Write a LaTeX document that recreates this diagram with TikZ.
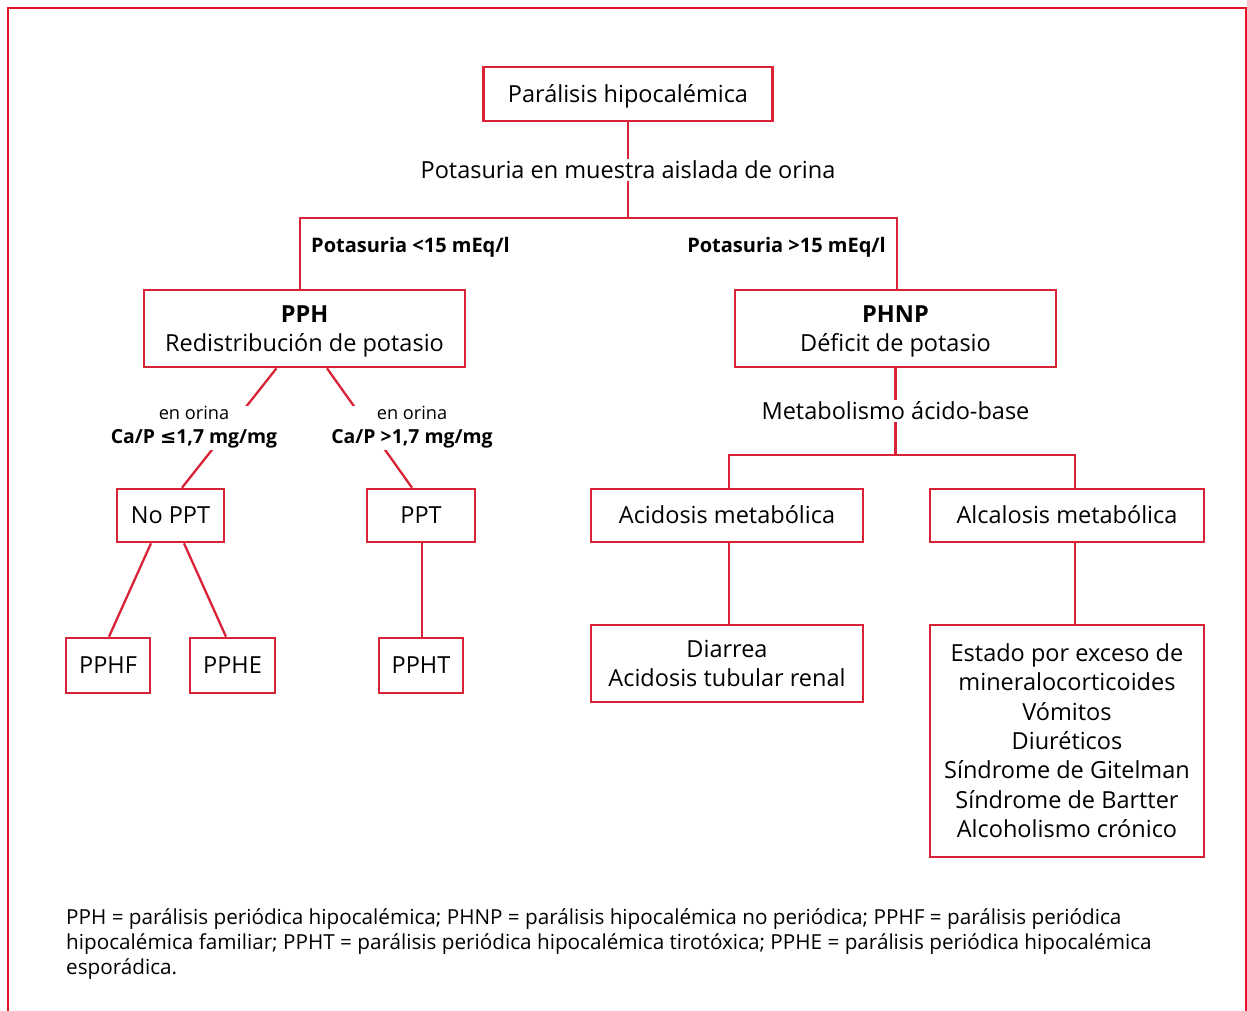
\documentclass[tikz,border=0pt]{standalone}
\usepackage{fontspec}
\setmainfont{Open Sans}
\newfontfamily\dejavu{DejaVu Sans}
\definecolor{boxred}{RGB}{216,35,55}
\definecolor{framered}{RGB}{228,20,40}
\newcommand\mainf{\fontsize{23.5}{29.3}\selectfont}
\newcommand\labf{\fontsize{19.4}{24}\selectfont}
\newcommand\smallf{\fontsize{18.2}{24}\selectfont}
\newcommand\notef{\fontsize{20.7}{25}\selectfont}
\newcommand\capl[1]{\vphantom{H}\smash{#1}}
\begin{document}
\begin{tikzpicture}[x=1pt,y=-1pt,
  box/.style={draw=boxred,line width=2.6pt,inner sep=0pt,align=center,font=\mainf},
  conn/.style={draw=boxred,line width=2.3pt},
  lab/.style={fill=white,inner sep=1.5pt,align=center,font=\mainf}]
\useasboundingbox (0,0) rectangle (1247,1010);
% frame
\draw[framered,line width=2pt] (8,1012) -- (8,8) -- (1246,8) -- (1246,1012);

% boxes
\node[box,minimum width=289,minimum height=54] (top) at (628,94) {\capl{Parálisis hipocalémica}};
\node[box,minimum width=321,minimum height=77] (pph) at (304.5,328.5) {\capl{\textbf{PPH}}\\\capl{Redistribución de potasio}};
\node[box,minimum width=321,minimum height=77] (phnp) at (895.5,328.5) {\capl{\textbf{PHNP}}\\\capl{Déficit de potasio}};
\node[box,minimum width=107,minimum height=53] (noppt) at (170.5,515.5) {\capl{No PPT}};
\node[box,minimum width=108,minimum height=53] (ppt) at (421,515.5) {\capl{PPT}};
\node[box,minimum width=84,minimum height=55] (pphf) at (108,665.5) {\capl{PPHF}};
\node[box,minimum width=85,minimum height=55] (pphe) at (232.5,665.5) {\capl{PPHE}};
\node[box,minimum width=84,minimum height=55] (ppht) at (421,665.5) {\capl{PPHT}};
\node[box,minimum width=272,minimum height=53] (acid) at (727,515.5) {\capl{Acidosis metabólica}};
\node[box,minimum width=274,minimum height=53] (alk) at (1067,515.5) {\capl{Alcalosis metabólica}};
\node[box,minimum width=272,minimum height=77] (diar) at (727,663.5) {\capl{Diarrea}\\\capl{Acidosis tubular renal}};
\node[box,minimum width=274,minimum height=232] (causes) at (1067,741) {\capl{Estado por exceso de}\\\capl{mineralocorticoides}\\\capl{Vómitos}\\\capl{Diuréticos}\\\capl{Síndrome de Gitelman}\\\capl{Síndrome de Bartter}\\\capl{Alcoholismo crónico}};

% labels on connectors
\node[lab] (pot) at (628,170) {Potasuria en muestra aislada de orina};
\node[lab] (metab) at (895.5,411) {Metabolismo ácido-base};
\coordinate (j1) at (628,218);
\coordinate (j2) at (895.5,455);

% connectors
\draw[conn] (top.south) -- (pot.north);
\draw[conn] (pot.south) -- (j1);
\draw[conn] ([xshift=-4.5]pph.north) |- (j1) -| ([xshift=1.5]phnp.north);
\draw[conn] (phnp.south) -- (metab.north);
\draw[conn] (metab.south) -- (j2);
\draw[conn] ([xshift=2]acid.north) |- (j2) -| ([xshift=8]alk.north);
\draw[conn] ([xshift=2]acid.south) -- ([xshift=2]diar.north);
\draw[conn] ([xshift=8]alk.south) -- ([xshift=8]causes.north);
\draw[conn] ([xshift=-28]pph.south) -- ([xshift=11.5]noppt.north);
\draw[conn] ([xshift=22.5]pph.south) -- ([xshift=-9]ppt.north);
\draw[conn] ([xshift=-19.5]noppt.south) -- ([xshift=1]pphf.north);
\draw[conn] ([xshift=13.5]noppt.south) -- ([xshift=-6.5]pphe.north);
\draw[conn] ([xshift=1]ppt.south) -- ([xshift=1]ppht.north);

% branch labels
\node[anchor=west,font=\fontsize{20}{24}\selectfont\bfseries,inner sep=0pt] (l1) at (311,247.5) {Potasuria <15 mEq/l};
\node[anchor=east,font=\fontsize{20}{24}\selectfont\bfseries,inner sep=0pt] (l2) at (886,247.5) {Potasuria >15 mEq/l};
\node[fill=white,inner sep=1pt,align=center,font=\labf] (c1) at (194,427.5) {{\smallf en orina}\\\textbf{Ca/P {\dejavu ≤}1,7 mg/mg}};
\node[fill=white,inner sep=1pt,align=center,font=\labf] (c2) at (412,427.5) {{\smallf en orina}\\\textbf{Ca/P >1,7 mg/mg}};

% footnote
\node[anchor=north west,align=left,inner sep=0pt,font=\notef] (note) at (66,908.5) {PPH = parálisis periódica hipocalémica; PHNP = parálisis hipocalémica no periódica; PPHF = parálisis periódica\\hipocalémica familiar; PPHT = parálisis periódica hipocalémica tirotóxica; PPHE = parálisis periódica hipocalémica\\esporádica.};
\end{tikzpicture}
\end{document}
